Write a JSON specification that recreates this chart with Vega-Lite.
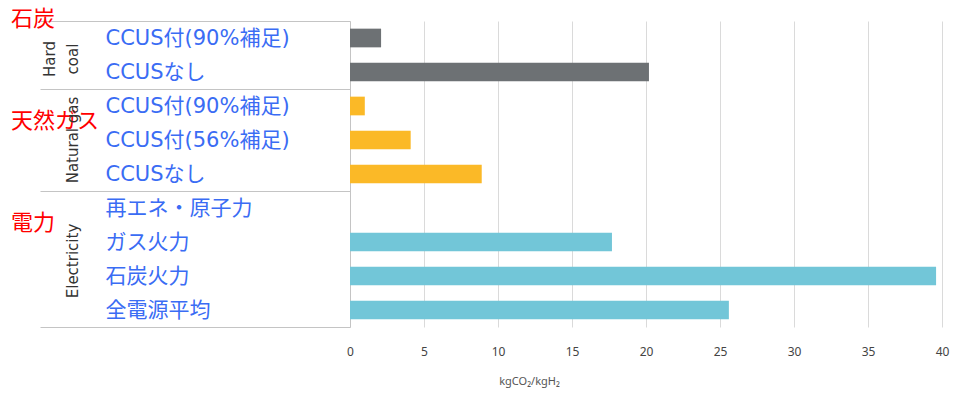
{
  "$schema": "https://vega.github.io/schema/vega-lite/v6.json",
  "width": 592,
  "height": {"step": 34},
  "autosize": {"type": "none"},
  "padding": {"left": 350, "top": 21, "right": 11, "bottom": 67},
  "background": "white",
  "config": {"view": {"stroke": null}, "font": "Noto Sans"},
  "datasets": {
    "rows": [
      {"group": "Hard coal", "key": "Hard coal|CCUS付(90%補足)", "value": 2.1},
      {"group": "Hard coal", "key": "Hard coal|CCUSなし", "value": 20.2},
      {"group": "Natural gas", "key": "Natural gas|CCUS付(90%補足)", "value": 1.0},
      {"group": "Natural gas", "key": "Natural gas|CCUS付(56%補足)", "value": 4.1},
      {"group": "Natural gas", "key": "Natural gas|CCUSなし", "value": 8.9},
      {"group": "Electricity", "key": "Electricity|再エネ・原子力", "value": 0},
      {"group": "Electricity", "key": "Electricity|ガス火力", "value": 17.7},
      {"group": "Electricity", "key": "Electricity|石炭火力", "value": 39.6},
      {"group": "Electricity", "key": "Electricity|全電源平均", "value": 25.6}
    ],
    "groups": [
      {"group": "Hard coal", "ja": "石炭", "ja_at": "Hard coal|CCUS付(90%補足)", "en": "Hard\ncoal", "en_at": "Hard coal|CCUSなし"},
      {"group": "Natural gas", "ja": "天然ガス", "ja_at": "Natural gas|CCUS付(56%補足)", "en": "Natural gas", "en_at": "Natural gas|CCUS付(56%補足)"},
      {"group": "Electricity", "ja": "電力", "ja_at": "Electricity|ガス火力", "en": "Electricity", "en_at": "Electricity|石炭火力"}
    ]
  },
  "resolve": {"scale": {"x": "independent"}},
  "layer": [
    {
      "data": {"name": "rows"},
      "mark": {"type": "bar", "height": {"band": 0.55}},
      "encoding": {
        "y": {
          "field": "key",
          "type": "nominal",
          "sort": null,
          "scale": {"paddingInner": 0, "paddingOuter": 0},
          "axis": {
            "title": null,
            "grid": false,
            "domain": true,
            "domainColor": "#c4c4c4",
            "ticks": true,
            "tickBand": "extent",
            "tickSize": 310,
            "tickColor": {
              "condition": {
                "test": "datum.index === -1 || datum.value === 'Hard coal|CCUSなし' || datum.value === 'Natural gas|CCUSなし' || datum.value === 'Electricity|全電源平均'",
                "value": "#c4c4c4"
              },
              "value": "rgba(0,0,0,0)"
            },
            "labelExpr": "split(datum.label, '|')[1]",
            "labelAlign": "left",
            "labelBaseline": "middle",
            "labelPadding": -65,
            "labelFont": "DejaVu Sans, Noto Sans CJK JP",
            "labelFontSize": 21,
            "labelColor": "#3a6cf4",
            "labelLimit": 0
          }
        },
        "x": {
          "field": "value",
          "type": "quantitative",
          "scale": {"domain": [0, 40], "nice": false},
          "axis": {
            "values": [0, 5, 10, 15, 20, 25, 30, 35, 40],
            "grid": true,
            "gridColor": "#dadada",
            "domain": false,
            "ticks": false,
            "tickSize": 0,
            "labelPadding": 19,
            "labelFont": "Noto Sans",
            "labelFontSize": 12,
            "labelColor": "#444444",
            "labelFlush": false,
            "title": "kgCO₂/kgH₂",
            "titleFont": "Noto Sans",
            "titleFontSize": 11,
            "titleFontWeight": "normal",
            "titleColor": "#555555",
            "titlePadding": 18,
            "titleX": 179
          }
        },
        "color": {
          "field": "group",
          "type": "nominal",
          "scale": {"domain": ["Hard coal", "Natural gas", "Electricity"], "range": ["#6d7174", "#fbb927", "#72c6d8"]},
          "legend": null
        }
      }
    },
    {
      "data": {"name": "groups"},
      "transform": [
        {"fold": ["ja", "en"], "as": ["col", "text"]},
        {"filter": "datum.col === 'ja'"}
      ],
      "mark": {"type": "text", "align": "left", "baseline": "middle", "dy": -2, "font": "Noto Sans CJK JP", "fontSize": 22, "color": "#ff0000"},
      "encoding": {
        "x": {"field": "col", "type": "nominal", "scale": {"type": "point", "domain": ["ja", "en"], "range": [-339, -269], "padding": 0}, "axis": null},
        "y": {"field": "ja_at", "type": "nominal", "sort": null, "bandPosition": 0},
        "text": {"field": "text"}
      }
    },
    {
      "data": {"name": "groups"},
      "transform": [
        {"fold": ["ja", "en"], "as": ["col", "text"]},
        {"filter": "datum.col === 'en' && datum.group === 'Hard coal'"}
      ],
      "mark": {"type": "text", "angle": 270, "align": "center", "baseline": "bottom", "lineBreak": "\n", "lineHeight": 23, "dy": -23, "dx": -4, "font": "DejaVu Sans", "fontSize": 15, "color": "#333333"},
      "encoding": {
        "x": {"field": "col", "type": "nominal", "scale": {"type": "point", "domain": ["ja", "en"], "range": [-339, -269], "padding": 0}, "axis": null},
        "y": {"field": "en_at", "type": "nominal", "sort": null, "bandPosition": 0},
        "text": {"field": "text"}
      }
    },
    {
      "data": {"name": "groups"},
      "transform": [
        {"fold": ["ja", "en"], "as": ["col", "text"]},
        {"filter": "datum.col === 'en' && datum.group === 'Electricity'"}
      ],
      "mark": {"type": "text", "angle": 270, "align": "center", "baseline": "bottom", "dx": -2, "font": "DejaVu Sans", "fontSize": 15, "color": "#333333"},
      "encoding": {
        "x": {"field": "col", "type": "nominal", "scale": {"type": "point", "domain": ["ja", "en"], "range": [-339, -269], "padding": 0}, "axis": null},
        "y": {"field": "en_at", "type": "nominal", "sort": null, "bandPosition": 0},
        "text": {"field": "text"}
      }
    },
    {
      "data": {"name": "groups"},
      "transform": [
        {"fold": ["ja", "en"], "as": ["col", "text"]},
        {"filter": "datum.col === 'en' && datum.group === 'Natural gas'"}
      ],
      "mark": {"type": "text", "angle": 270, "align": "center", "baseline": "bottom", "font": "DejaVu Sans", "fontSize": 15, "color": "#333333"},
      "encoding": {
        "x": {"field": "col", "type": "nominal", "scale": {"type": "point", "domain": ["ja", "en"], "range": [-339, -269], "padding": 0}, "axis": null},
        "y": {"field": "en_at", "type": "nominal", "sort": null, "bandPosition": 0.5},
        "text": {"field": "text"}
      }
    }
  ]
}
